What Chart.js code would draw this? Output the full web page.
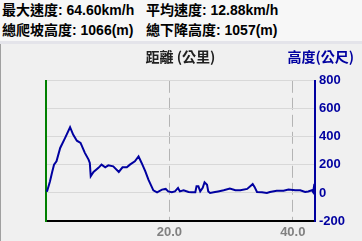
<!DOCTYPE html>
<html>
<head>
<meta charset="utf-8">
<script src="https://cdn.jsdelivr.net/npm/chart.js@4"></script>
<style>
  body { margin: 0; width: 362px; height: 241px; overflow: hidden; background: #f0f0f0; position: relative; }
  #head { position: absolute; left: 0; top: 0; width: 362px; height: 41px; background: #f7f7f7; border-bottom: 3px solid #e4e4ea;
          font: bold 14px "Liberation Sans", "Noto Sans CJK TC", sans-serif; color: #000; }
  #head div { position: absolute; white-space: pre; line-height: 20px; }
  #edge { position: absolute; left: 0; top: 44px; width: 1px; height: 197px; background: #a0a0a0; }
  #ytitle { position: absolute; right: 8px; top: 46px; font: bold 14px "Noto Sans CJK TC", sans-serif; color: #0000a0; }
  #wrap { position: absolute; left: 0; top: 0; width: 362px; height: 241px; }
</style>
</head>
<body>
<div id="wrap"><canvas id="elevChart"></canvas></div>
<div id="head"></div>
<div id="edge"></div>
<div id="ytitle"></div>
<script>
// summary texts
const summaryLeft = ['最大速度: 64.60km/h', '總爬坡高度: 1066(m)'];
const summaryRight = ['平均速度: 12.88km/h', '總下降高度: 1057(m)'];
const xTitle = '距離 (公里)';
const yTitle = '高度(公尺)';

// distance (km) and altitude (m)
const distKm = [0, 0.2, 0.65, 1.0, 1.3, 1.7, 2.3, 3.1, 3.9, 4.4, 5.0, 5.6, 6.3, 6.9, 7.1, 7.25, 7.7, 8.5, 9.0, 9.6,
  10.1, 10.9, 11.8, 12.4, 13.1, 13.6, 14.4, 15.0, 15.5, 16.1, 16.6, 17.4, 18.0, 18.8, 19.4, 19.8, 20.4, 20.9, 21.4, 21.7,
  22.3, 23.1, 23.6, 24.2, 24.4, 24.7, 25.0, 25.4, 25.7, 26.1, 26.3, 26.6, 27.4, 27.9, 28.8, 29.8, 30.7, 31.5, 32.6, 33.2,
  33.5, 33.8, 34.2, 35.0, 35.8, 36.3, 37.4, 38.5, 39.3, 40.4, 41.2, 42.0, 42.5, 43.1, 43.3, 43.5];
const altM = [18, 16, 83, 150, 202, 226, 321, 393, 469, 416, 373, 357, 286, 238, 214, 119, 150, 179, 202, 183,
  197, 190, 150, 183, 183, 202, 226, 261, 214, 154, 95, 19, 5, 24, 29, 11, 5, 11, 36, 11,
  19, 7, 5, 5, 47, 47, 11, 36, 76, 59, 11, 0, 7, 11, 19, 31, 19, 19, 29, 52,
  64, 43, 7, 5, 0, 7, 16, 16, 24, 19, 19, 7, 11, 19, 5, 65];

const xTicks = [20, 40];
const xMax = 43.6;
const yTicks = [-200, 0, 200, 400, 600, 800];

let headHtml = '';
summaryLeft.forEach((t, i) => {
  headHtml += '<div style="left:2px;top:' + (i * 20) + 'px">' + t + '</div>';
  headHtml += '<div style="left:146px;top:' + (i * 20) + 'px">' + summaryRight[i] + '</div>';
});
document.getElementById('head').innerHTML = headHtml;
document.getElementById('ytitle').textContent = yTitle;

const points = distKm.map((d, i) => ({ x: d, y: altM[i] }));

new Chart(document.getElementById('elevChart'), {
  type: 'line',
  data: {
    datasets: [{
      data: points,
      borderColor: '#0000a0',
      borderWidth: 2,
      pointRadius: 0,
      tension: 0,
      fill: false,
      yAxisID: 'y'
    }]
  },
  options: {
    responsive: true,
    maintainAspectRatio: false,
    animation: false,
    layout: { padding: { top: 48, left: 45, right: 0, bottom: 0 } },
    plugins: {
      legend: { display: false },
      tooltip: { enabled: false },
      title: {
        display: true,
        text: xTitle,
        fullSize: false,
        color: '#202020',
        font: { family: 'Noto Sans CJK TC', size: 14, weight: 'bold' },
        padding: { top: 0, bottom: 16 }
      }
    },
    scales: {
      x: {
        type: 'linear',
        min: 0,
        max: xMax,
        afterBuildTicks: s => { s.ticks = xTicks.map(v => ({ value: v })); },
        afterFit: s => { s.height = 20; },
        ticks: {
          color: '#808080',
          padding: 4,
          font: { family: 'Liberation Sans', size: 13, weight: 'bold' },
          callback: v => v.toFixed(1)
        },
        grid: { color: '#b4b4b4', drawTicks: false },
        border: { color: '#000000', width: 2, dash: [12, 5] }
      },
      yl: {
        position: 'left',
        min: -200,
        max: 800,
        ticks: { display: false },
        grid: { display: false },
        afterFit: s => { s.width = 1; },
        border: { color: '#008000', width: 2 }
      },
      y: {
        position: 'right',
        min: -200,
        max: 800,
        afterBuildTicks: s => { s.ticks = yTicks.map(v => ({ value: v })); },
        afterFit: s => { s.width = 47; },
        ticks: {
          color: '#0000a0',
          padding: 4,
          font: { family: 'Liberation Sans', size: 13, weight: 'bold' }
        },
        grid: { color: '#d8d8d8', drawTicks: false },
        border: { color: '#0000a0', width: 2 }
      }
    }
  }
});
</script>
</body>
</html>
